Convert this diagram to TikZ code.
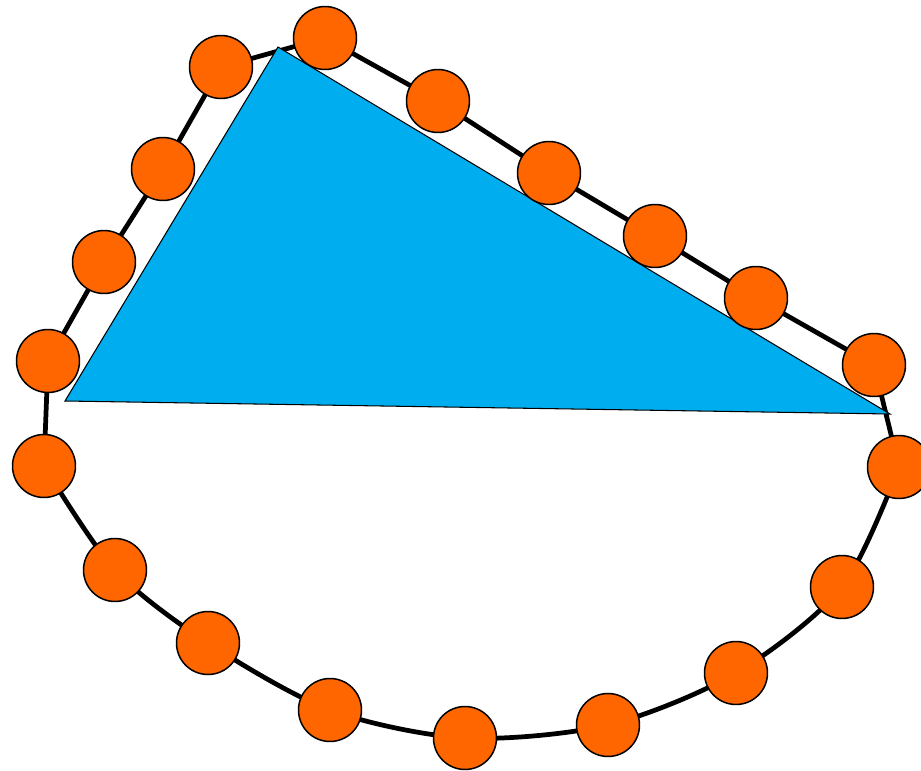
\documentclass[tikz,border=0pt]{standalone}
\usepackage{tikz}
\definecolor{beadorange}{HTML}{FF6600}
\definecolor{skyblue}{HTML}{00AEEF}

\begin{document}
\begin{tikzpicture}[x=0.02cm, y=-0.02cm,
  bead/.style={circle, draw=black, line width=0.85pt, fill=beadorange, minimum size=1.26cm, inner sep=0pt}]
\useasboundingbox (0,0) rectangle (921,771);
\coordinate (p1) at (325,38);
\coordinate (p2) at (221,67);
\coordinate (p3) at (163,169);
\coordinate (p4) at (104,262);
\coordinate (p5) at (48,361);
\coordinate (p6) at (44,466);
\coordinate (p7) at (115,570);
\coordinate (p8) at (208,643);
\coordinate (p9) at (330,710);
\coordinate (p10) at (465,738);
\coordinate (p11) at (608,725);
\coordinate (p12) at (736,673);
\coordinate (p13) at (842,587);
\coordinate (p14) at (899,467);
\coordinate (p15) at (874,365);
\coordinate (p16) at (756,298);
\coordinate (p17) at (655,236);
\coordinate (p18) at (549,173);
\coordinate (p19) at (438,101);
% closed loop through the beads
\draw[line width=2.7pt, line join=round] (p6) -- (p5) -- (p4) -- (p3) -- (p2) -- (p1)
  -- (p19) -- (p18) -- (p17) -- (p16) -- (p15) -- (p14)
  -- plot[smooth] coordinates {(p14) (p13) (p12) (p11) (p10) (p9) (p8) (p7) (p6)} -- cycle;
% triangle
\coordinate (A) at (278,47);
\coordinate (B) at (65,401);
\coordinate (C) at (890,414);
\filldraw[fill=skyblue, draw=black, line width=0.6pt] (A) -- (B) -- (C) -- cycle;
% beads
\foreach \n in {1,...,19}
  \node[bead] (d\n) at (p\n) {};
\end{tikzpicture}
\end{document}
